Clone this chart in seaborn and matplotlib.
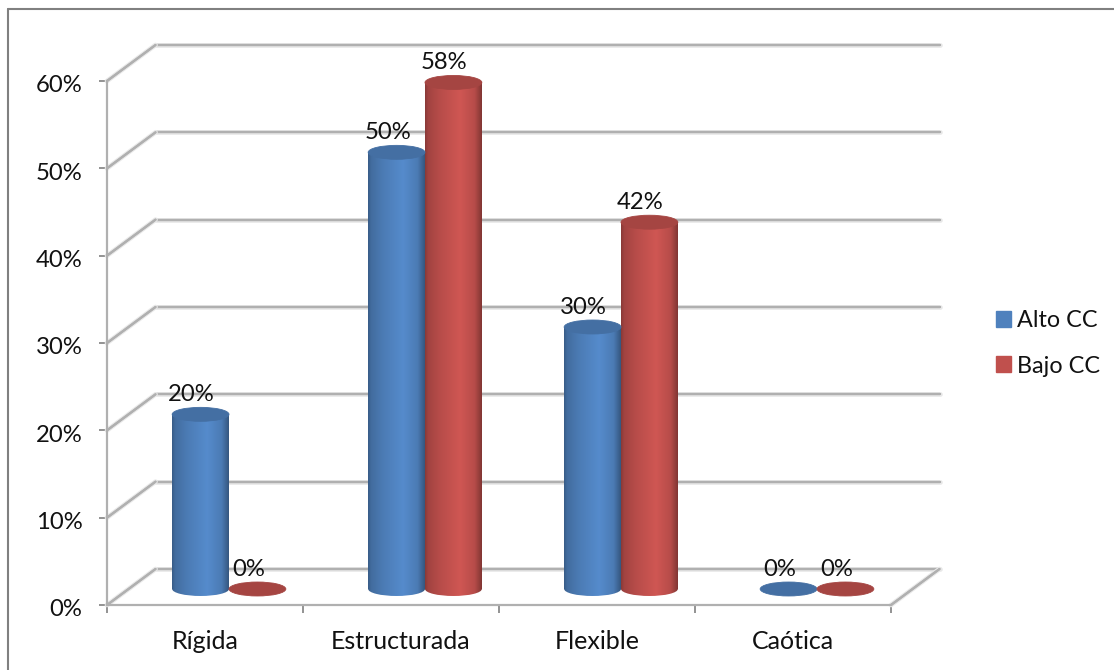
import numpy as np
import pandas as pd
import matplotlib
matplotlib.use("Agg")
import matplotlib.pyplot as plt
from matplotlib.lines import Line2D
from matplotlib.patches import Ellipse, Patch
from matplotlib.transforms import Affine2D
from matplotlib.colors import to_rgb
import matplotlib.patheffects as pe
import seaborn as sns

categories = ["Rígida", "Estructurada", "Flexible", "Caótica"]
alto_cc = [0.20, 0.50, 0.30, 0.00]
bajo_cc = [0.00, 0.58, 0.42, 0.00]
series_names = ["Alto CC", "Bajo CC"]
y_ticks = [0.0, 0.1, 0.2, 0.3, 0.4, 0.5, 0.6]

W, H = 1114, 670
BLUE, RED = "#4F81BD", "#C0504D"
GRID = "#B0B0B0"
TEXT = "#111111"
FONT = "Lato"
FS = 17.2
FS_CAT = 18.0
FS_LEG = 16.8

sns.set_style("white")
plt.rcParams["font.family"] = [FONT, "DejaVu Sans"]

df = pd.DataFrame({
    "estado": categories * 2,
    "grupo": [series_names[0]] * 4 + [series_names[1]] * 4,
    "pct": alto_cc + bajo_cc,
})

fig = plt.figure(figsize=(W / 100, H / 100), dpi=100, facecolor="white")

# Outer frame: only the top and left edges fall inside the canvas
for xs, ys in (([8 / W, 1], [1 - 9 / H, 1 - 9 / H]), ([8 / W, 8 / W], [1 - 9 / H, 0])):
    fig.add_artist(Line2D(xs, ys, color="#808080", lw=1.5, transform=fig.transFigure))

# Front plane of the pseudo-3D box carries the axes and ticks
L, R, T, B = 107, 891, 81, 605
ax = fig.add_axes([L / W, 1 - B / H, (R - L) / W, (B - T) / H])
ax.set_xlim(-0.5, 3.5)
ax.set_ylim(0, 0.6)
ax.patch.set_alpha(0)

# Bars stand on a plane partway through the depth of the box
MID_DX, MID_DY = 24, 16
BACK_DX, BACK_DY = 48.5, 36
ax_mid = fig.add_axes([(L + MID_DX) / W, 1 - (B - MID_DY) / H, (R - L) / W, (B - T) / H])
ax_mid.patch.set_alpha(0)
sns.barplot(data=df, x="estado", y="pct", hue="grupo", ax=ax_mid, width=0.58, gap=0,
            palette=[BLUE, RED], legend=False, saturation=1)

# Back wall lines and their diagonal returns to the front axis
to_back = ax.transData + Affine2D().translate(BACK_DX, BACK_DY)
soft = [pe.withStroke(linewidth=3.4, foreground="#E8E8E8"), pe.Normal()]


def diagonal(x, v):
    p0 = ax.transData.transform((x, v))
    p1 = to_back.transform((x, v))
    line = Line2D([p0[0], p1[0]], [p0[1], p1[1]], transform=None, color=GRID, lw=1.6,
                  path_effects=soft, zorder=1)
    ax.add_artist(line)
    line.set_clip_on(False)


for v in y_ticks:
    ax.plot([-0.5, 3.5], [v, v], transform=to_back, color=GRID, lw=1.6, clip_on=False,
            zorder=1, path_effects=soft)
    diagonal(-0.5, v)
diagonal(3.5, 0)

# Axis styling
sns.despine(ax=ax, top=True, right=True)
for side in ("left", "bottom"):
    ax.spines[side].set_color(GRID)
    ax.spines[side].set_linewidth(1.6)
ax.set_yticks(y_ticks, [f"{v:.0%}" for v in y_ticks])
ax.set_xticks([-0.5, 0.5, 1.5, 2.5, 3.5], [""] * 5)
ax.set_xticks(range(4), categories, minor=True)
ax.tick_params(axis="y", length=5.8, width=1.2, color="#808080", pad=11.8, labelsize=FS,
               labelcolor=TEXT, left=True)
ax.tick_params(axis="x", which="major", length=5.4, width=1.2, color="#808080", bottom=True)
ax.tick_params(axis="x", which="minor", length=0, pad=18, labelsize=FS_CAT, labelcolor=TEXT)
ax.set_xlabel("")
ax.set_ylabel("")
for label in ax.get_yticklabels():
    label.set_transform(label.get_transform() + Affine2D().translate(0, -3))


# Cylinder shading: dark edges with a brighter band just right of centre
def shade(color):
    base = np.array(to_rgb(color))
    pos = np.linspace(0, 1, 64)
    light = np.interp(pos, [0, 0.05, 0.25, 0.62, 0.88, 1], [0.72, 0.84, 0.95, 1.08, 0.95, 0.68])
    return np.clip(base[None, None, :] * light[None, :, None], 0, 1)


E_H = 0.016
bars = list(ax_mid.patches)
values = alto_cc + bajo_cc
for bar, value in zip(bars, values):
    x, w = bar.get_x(), bar.get_width()
    color = bar.get_facecolor()[:3]
    bar.set_visible(False)
    cx = x + w / 2
    top_color = tuple(np.array(color) * 0.86)
    if value > 0:
        foot = Ellipse((cx, 0), w, E_H, fc="none", ec="none", clip_on=False)
        ax_mid.add_patch(foot)
        im = ax_mid.imshow(shade(color), extent=(x, x + w, -E_H / 2, E_H / 2), aspect="auto",
                           interpolation="bilinear", zorder=3)
        im.set_clip_path(foot)
        im.set_clip_box(fig.bbox)
        body = ax_mid.imshow(shade(color), extent=(x, x + w, 0, value), aspect="auto",
                             interpolation="bilinear", zorder=3)
        body.set_clip_box(fig.bbox)
    ax_mid.add_patch(Ellipse((cx, value), w, E_H, fc=top_color, ec=top_color, lw=0.6,
                             zorder=4, clip_on=False))
    ax_mid.annotate(f"{value:.0%}", (cx, value), xytext=(-9, 20), textcoords="offset pixels",
                    ha="center", va="center", fontsize=FS, color=TEXT, zorder=6,
                    annotation_clip=False)

ax_mid.set_xlim(-0.5, 3.5)
ax_mid.set_ylim(0, 0.6)
ax_mid.axis("off")

# Legend at the right of the box
handles = [Patch(color=BLUE, label=series_names[0]), Patch(color=RED, label=series_names[1])]
fig.legend(handles=handles, loc="center left", bbox_to_anchor=(989 / W, 1 - 343.5 / H),
           frameon=False, fontsize=FS_LEG, labelcolor=TEXT, handlelength=0.66, handleheight=0.66,
           handletextpad=0.24, labelspacing=1.03, borderpad=0, borderaxespad=0.3)

fig.savefig("out.png", dpi=100, facecolor="white")
